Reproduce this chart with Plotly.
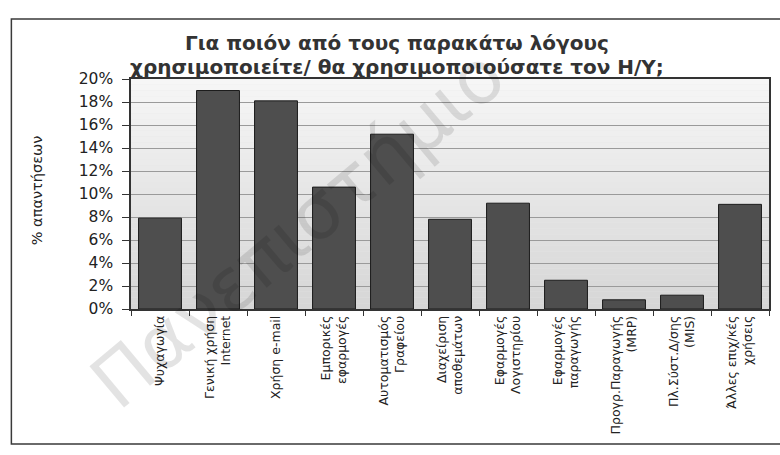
import plotly.graph_objects as go

# Survey: reasons for using (or planning to use) a computer, % of answers
categories = [
    "Ψυχαγωγία",
    "Γενική χρήση<br>Internet",
    "Χρήση e-mail",
    "Εμπορικές<br>εφαρμογές",
    "Αυτοματισμός<br>Γραφείου",
    "Διαχείριση<br>αποθεμάτων",
    "Εφαρμογές<br>Λογιστηρίου",
    "Εφαρμογές<br>παραγωγής",
    "Προγρ.Παραγωγής<br>(MRP)",
    "Πλ.Σύστ.Δ/σης<br>(MIS)",
    "Άλλες επιχ/κές<br>χρήσεις",
]
shares = [7.9, 19.0, 18.1, 10.6, 15.2, 7.8, 9.2, 2.5, 0.8, 1.2, 9.1]
y_ticks = [0, 2, 4, 6, 8, 10, 12, 14, 16, 18, 20]
y_tick_labels = ["0%", "2%", "4%", "6%", "8%", "10%", "12%", "14%", "16%", "18%", "20%"]

title_lines = ["Για ποιόν από τους παρακάτω λόγους",
               "χρησιμοποιείτε/ θα χρησιμοποιούσατε τον Η/Υ;"]
y_title = "% απαντήσεων"
watermark = "Πανεπιστήμιο"

W, H = 780, 455
L, R, T, B = 131, 771, 79, 309  # plot area in pixels


def px_x(x):
    return (x - L) / (R - L)


def px_y(y):
    return (B - y) / (B - T)


FONT = "DejaVu Sans, Arial, sans-serif"

fig = go.Figure(
    go.Bar(
        x=categories,
        y=shares,
        marker=dict(color="#4e4e4e", line=dict(color="#1c1c1c", width=1)),
        hovertemplate="%{x}: %{y}%<extra></extra>",
    )
)

# soft vertical gradient behind the bars
shapes = []
n_bands = 40
top_c, bot_c = (246, 246, 246), (214, 214, 214)
for i in range(n_bands):
    t = i / (n_bands - 1)
    c = tuple(round(top_c[k] + (bot_c[k] - top_c[k]) * t) for k in range(3))
    shapes.append(dict(
        type="rect", xref="x domain", yref="y domain",
        x0=0, x1=1, y0=1 - (i + 1) / n_bands, y1=1 - i / n_bands,
        fillcolor="rgb(%d,%d,%d)" % c, line=dict(width=0), layer="below",
    ))

# outer chart frame
shapes.append(dict(
    type="rect", xref="paper", yref="paper",
    x0=px_x(11), x1=px_x(786), y0=px_y(444), y1=px_y(19),
    line=dict(color="#3a3a3a", width=1.5), fillcolor="rgba(0,0,0,0)", layer="above",
))

annotations = [
    dict(text="<b>%s</b>" % title_lines[0], x=px_x(398), y=px_y(43), xref="paper", yref="paper",
         showarrow=False, xanchor="center", yanchor="middle",
         font=dict(family=FONT, size=20, color="#333333")),
    dict(text="<b>%s</b>" % title_lines[1], x=px_x(398), y=px_y(67), xref="paper", yref="paper",
         showarrow=False, xanchor="center", yanchor="middle",
         font=dict(family=FONT, size=20, color="#333333")),
    dict(text=y_title, x=px_x(37), y=px_y(190), xref="paper", yref="paper",
         showarrow=False, textangle=-90, xanchor="center", yanchor="middle",
         font=dict(family=FONT, size=14.5, color="#222")),
    dict(text=watermark, x=px_x(298), y=px_y(228), xref="paper", yref="paper",
         showarrow=False, textangle=-40, xanchor="center", yanchor="middle",
         font=dict(family=FONT, size=74, color="rgba(0,0,0,0.11)")),
]

fig.update_layout(
    width=W, height=H,
    margin=dict(l=L, r=W - R, t=T, b=H - B, pad=0),
    paper_bgcolor="white",
    plot_bgcolor="#e6e6e6",
    bargap=0.26,
    showlegend=False,
    shapes=shapes,
    annotations=annotations,
    font=dict(family=FONT, color="#222"),
)

fig.update_xaxes(
    tickangle=-90,
    tickfont=dict(family=FONT, size=12.5, color="#222"),
    ticks="outside", ticklen=5, tickcolor="#333", tickson="boundaries",
    showline=True, linecolor="#333", linewidth=1.5, mirror=True,
    showgrid=False,
)
fig.update_yaxes(
    range=[0, 20],
    tickvals=y_ticks,
    ticktext=y_tick_labels,
    tickfont=dict(family=FONT, size=15.5, color="#222"),
    ticks="outside", ticklen=7, tickcolor="#333", ticklabelstandoff=6,
    showline=True, linecolor="#333", linewidth=1.5, mirror=True,
    showgrid=True, gridcolor="#9a9a9a", gridwidth=1,
    zeroline=False,
)

fig.write_html("out.html")
